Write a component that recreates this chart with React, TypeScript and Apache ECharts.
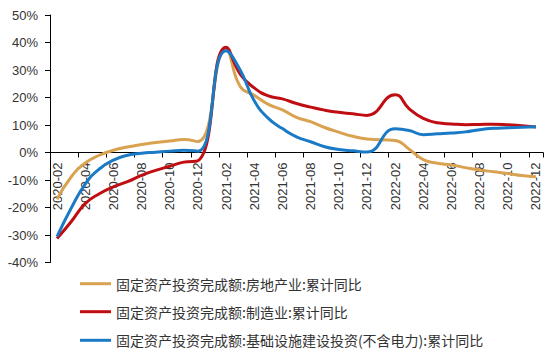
import React, { useEffect, useRef } from 'react';
import * as echarts from 'echarts';

const months = [
  '2020-02', '2020-03', '2020-04', '2020-05', '2020-06', '2020-07', '2020-08', '2020-09', '2020-10', '2020-11', '2020-12',
  '2021-01', '2021-02', '2021-03', '2021-04', '2021-05', '2021-06', '2021-07', '2021-08', '2021-09', '2021-10', '2021-11', '2021-12',
  '2022-01', '2022-02', '2022-03', '2022-04', '2022-05', '2022-06', '2022-07', '2022-08', '2022-09', '2022-10', '2022-11', '2022-12',
];

const realEstate = [
  -17.0, -8.9, -3.8, -1.0, 0.8, 2.0, 2.9, 3.6, 4.2, 4.7, 4.0,
  null, 37.5, 24.0, 20.8, 17.5, 15.5, 12.8, 11.2, 9.1, 7.4, 5.9, 4.9,
  null, 4.4, 1.2, -2.6, -3.9, -4.5, -5.5, -6.4, -7.0, -7.6, -8.4, -8.8,
];

const manufacturing = [
  -31.3, -25.2, -18.6, -15.0, -12.5, -10.6, -8.3, -6.5, -5.0, -3.5, -3.0,
  null, 38.3, 28.5, 23.5, 20.6, 19.5, 17.8, 16.5, 15.4, 14.6, 14.1, 13.5,
  null, 21.0, 15.9, 12.4, 10.8, 10.4, 10.1, 10.2, 10.3, 10.1, 9.7, 9.3,
];

const infrastructure = [
  -30.6, -20.3, -11.5, -6.0, -2.8, -1.0, -0.3, 0.1, 0.5, 0.8, 0.5,
  null, 37.0, 30.0, 18.8, 12.4, 8.7, 5.7, 3.9, 2.1, 1.1, 0.6, 0.2,
  null, 8.6, 8.0, 6.5, 6.8, 7.1, 7.5, 8.3, 8.8, 9.0, 9.2, 9.4,
];

const seriesNames = [
  '固定资产投资完成额:房地产业:累计同比',
  '固定资产投资完成额:制造业:累计同比',
  '固定资产投资完成额:基础设施建设投资(不含电力):累计同比',
];
const seriesData = [realEstate, manufacturing, infrastructure];
const seriesColors = ['#D9A250', '#C00D12', '#1A7AC6'];
const legendTops = [275.7, 303.7, 332.3];

const Y_MIN = -40;
const Y_MAX = 50;
const GRID_TOP = 15;
const GRID_HEIGHT = 247.5;

export default function App() {
  const ref = useRef<HTMLDivElement>(null);
  useEffect(() => {
    if (!ref.current) return;
    const chart = echarts.init(ref.current, null, { renderer: 'svg' });
    // distance from grid bottom up to the zero line
    const zeroOffset = (GRID_HEIGHT * (0 - Y_MIN)) / (Y_MAX - Y_MIN);
    chart.setOption({
      animation: false,
      backgroundColor: '#ffffff',
      textStyle: { fontFamily: '"Liberation Sans", Arial, sans-serif' },
      grid: {
        left: 50,
        top: GRID_TOP,
        width: 493,
        height: GRID_HEIGHT,
        containLabel: false,
        outerBoundsMode: 'none',
      },
      legend: seriesNames.map((n, i) => ({
        data: [n],
        left: 80,
        top: legendTops[i],
        padding: 0,
        icon: 'rect',
        itemWidth: 31,
        itemHeight: 3,
        textStyle: {
          fontFamily: '"Noto Sans CJK SC", sans-serif',
          fontSize: 14,
          lineHeight: 16,
          color: '#333',
        },
      })),
      xAxis: {
        type: 'category',
        data: months,
        position: 'bottom',
        offset: -zeroOffset,
        boundaryGap: true,
        axisLine: { onZero: false, lineStyle: { color: '#000', width: 1 } },
        axisTick: { show: true, interval: 1, length: 5, lineStyle: { color: '#000' } },
        axisLabel: { interval: 1, rotate: 90, margin: 10, fontSize: 13, color: '#333' },
        splitLine: { show: false },
      },
      yAxis: {
        type: 'value',
        min: Y_MIN,
        max: Y_MAX,
        interval: 10,
        axisLine: { show: true, lineStyle: { color: '#000', width: 1 } },
        axisTick: { show: true, length: 5, lineStyle: { color: '#000' } },
        axisLabel: { formatter: '{value}%', margin: 12, fontSize: 13, color: '#333' },
        splitLine: { show: false },
      },
      series: seriesNames.map((n, i) => ({
        name: n,
        type: 'line',
        data: seriesData[i],
        smooth: 0.5,
        connectNulls: true,
        symbol: 'none',
        color: seriesColors[i],
        lineStyle: { width: 3, color: seriesColors[i] },
        itemStyle: { color: seriesColors[i] },
      })),
    });
    return () => chart.dispose();
  }, []);
  return (
    <div
      ref={ref}
      style={{ position: 'absolute', left: 0, top: 0, width: 550, height: 361, background: '#fff' }}
    />
  );
}
